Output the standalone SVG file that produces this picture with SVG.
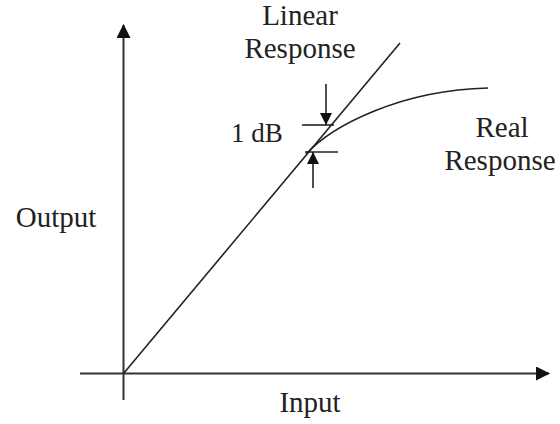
<svg xmlns="http://www.w3.org/2000/svg" width="560" height="424" viewBox="0 0 560 424">
<style>
.ln{stroke:#222;stroke-width:1.6;fill:none}
.ax{stroke:#333;stroke-width:2;fill:none}
.t{font-family:"Liberation Serif","Times New Roman",serif;font-size:29px;fill:#222;text-anchor:middle}
</style>
<defs>
<marker id="ah" markerUnits="userSpaceOnUse" markerWidth="14" markerHeight="14" viewBox="0 0 14 14" refX="13" refY="7" orient="auto">
<path d="M0,0 L14,7 L0,14 Z" fill="#111"/>
</marker>
<marker id="sh" markerUnits="userSpaceOnUse" markerWidth="12" markerHeight="12" viewBox="0 0 12 12" refX="12" refY="6" orient="auto">
<path d="M0,0 L12,6 L0,12 Z" fill="#111"/>
</marker>
</defs>
<g id="axes">
<line id="y-axis" class="ax" x1="123.5" y1="400" x2="123.5" y2="25" marker-end="url(#ah)"/>
<line id="x-axis" class="ax" x1="80" y1="373.5" x2="549" y2="373.5" marker-end="url(#ah)"/>
</g>
<g id="connectors">
<line id="linear" class="ln" x1="123.5" y1="373.5" x2="400" y2="43"/>
<path id="real" class="ln" d="M306,154 C332,126 400,90 488,88"/>
<line class="ln" x1="302" y1="125" x2="334" y2="125"/>
<line class="ln" x1="305" y1="152" x2="338" y2="152"/>
<line class="ln" x1="326" y1="84" x2="326" y2="125" marker-end="url(#sh)"/>
<line class="ln" x1="313" y1="188" x2="313" y2="152" marker-end="url(#sh)"/>
</g>
<g id="labels">
<text class="t" x="300" y="25">Linear</text>
<text class="t" x="300" y="58">Response</text>
<text class="t" x="257" y="142" style="font-size:27px">1 dB</text>
<text class="t" x="502" y="137">Real</text>
<text class="t" x="500" y="170">Response</text>
<text class="t" x="56" y="227">Output</text>
<text class="t" x="310" y="412">Input</text>
</g>
</svg>
